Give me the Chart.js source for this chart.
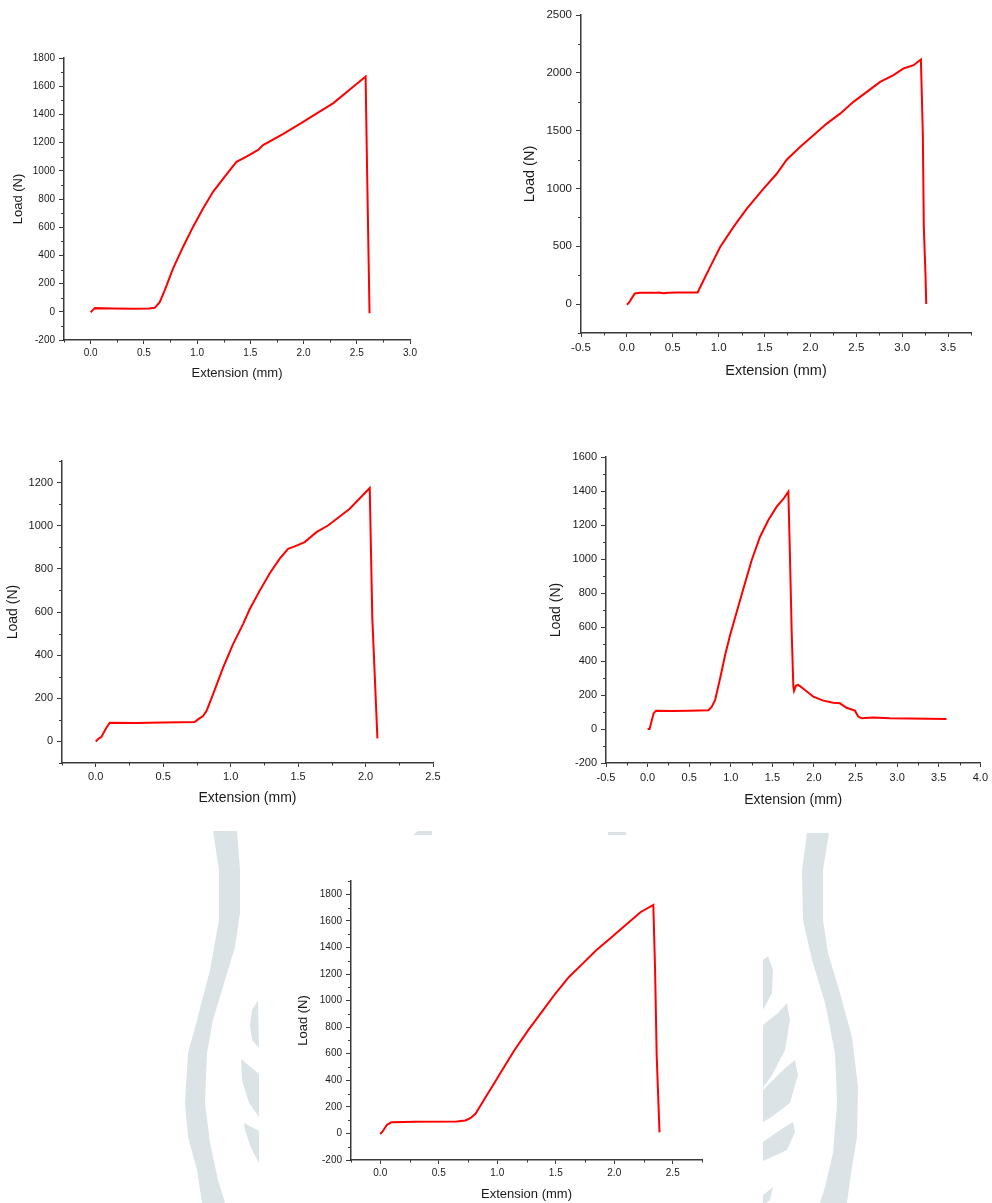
<!DOCTYPE html>
<html>
<head>
<meta charset="utf-8">
<script src="https://cdn.jsdelivr.net/npm/chart.js@4"></script>
<style>
  body { margin: 0; background: #fff; }
  #page { position: relative; width: 992px; height: 1203px; overflow: hidden; }
  #page canvas { position: absolute; }
  #mark { position: absolute; left: 0; top: 0; }
  #box5 { position: absolute; left: 259px; top: 836px; width: 504px; height: 367px; background: #fff; }
</style>
</head>
<body>
<div id="page">
  <!-- faint watermark behind the last chart -->
  <svg id="mark" width="992" height="1203" fill="#dce3e6">
    <polygon points="213,831 219,870 219,920 210,970 197,1020 188,1053 185,1103 188,1137 197,1170 202,1203 225,1203 218,1180 210,1143 205,1103 207,1053 213,1020 225,980 235,947 240,913 240,870 237,831"/>
    <polygon points="258,1000 252,1010 250,1025 252,1040 259,1048"/>
    <polygon points="241,1059 259,1074 259,1117 249,1103 242,1080"/>
    <polygon points="244,1123 259,1131 259,1163 251,1148 245,1130"/>
    <polygon points="807,833 802,870 803,920 812,960 825,1003 835,1053 837,1103 833,1153 825,1187 820,1203 847,1203 850,1180 857,1137 858,1087 852,1037 840,993 828,953 823,920 823,870 829,833"/>
    <polygon points="763,960 768,956 773,970 772,993 763,1010"/>
    <polygon points="763,1025 778,1013 787,1003 790,1020 785,1050 772,1075 763,1088"/>
    <polygon points="763,1090 783,1070 795,1060 798,1075 790,1103 770,1118 763,1122"/>
    <polygon points="763,1142 780,1130 793,1122 795,1132 787,1150 765,1160 763,1161"/>
    <polygon points="763,1195 773,1187 770,1200 766,1203 763,1203"/>
    <polygon points="413,835 418,831 432,831 432,835"/>
    <polygon points="608,832 626,832 626,835 608,835"/>
  </svg>
  <div id="box5"></div>
  <canvas id="c1"></canvas>
  <canvas id="c2"></canvas>
  <canvas id="c3"></canvas>
  <canvas id="c4"></canvas>
  <canvas id="c5"></canvas>
</div>

<script>
// ---- data ----
var ext1  = [0, 0.02, 0.04, 0.2, 0.4, 0.55, 0.602, 0.649, 0.696, 0.774, 0.868, 0.962, 1.056, 1.15, 1.26, 1.37, 1.464, 1.573, 1.62, 1.81, 1.966, 2.28, 2.583, 2.597, 2.62];
var load1 = [-3, 12, 26, 23, 22, 24, 28, 68, 152, 306, 460, 602, 733, 851, 958, 1064, 1100, 1148, 1182, 1262, 1333, 1480, 1669, 1000, -10];

var ext2  = [0, 0.025, 0.06, 0.087, 0.142, 0.3, 0.35, 0.4, 0.45, 0.55, 0.771, 0.833, 0.905, 1.015, 1.16, 1.305, 1.487, 1.633, 1.742, 1.887, 2.033, 2.178, 2.324, 2.469, 2.615, 2.76, 2.905, 3.015, 3.124, 3.204, 3.225, 3.236, 3.255, 3.262];
var load2 = [-6, 14, 60, 92, 98, 97, 100, 94, 98, 100, 100, 202, 318, 491, 665, 824, 997, 1127, 1249, 1358, 1460, 1561, 1647, 1749, 1835, 1922, 1980, 2038, 2066, 2116, 1474, 665, 231, 0];

var ext3  = [0, 0.02, 0.042, 0.08, 0.104, 0.3, 0.5, 0.734, 0.758, 0.795, 0.821, 0.87, 0.944, 1.018, 1.092, 1.142, 1.216, 1.29, 1.364, 1.426, 1.475, 1.549, 1.636, 1.722, 1.883, 2.031, 2.05, 2.088];
var load3 = [0, 12, 21, 65, 87, 86, 88, 90, 102, 118, 141, 219, 342, 451, 544, 614, 699, 780, 847, 893, 904, 924, 970, 1001, 1079, 1175, 575, 14];

var ext4  = [0, 0.024, 0.072, 0.1, 0.3, 0.5, 0.732, 0.772, 0.812, 0.872, 0.932, 0.992, 1.072, 1.152, 1.252, 1.352, 1.452, 1.552, 1.632, 1.692, 1.712, 1.732, 1.752, 1.76, 1.784, 1.812, 1.892, 1.992, 2.112, 2.232, 2.312, 2.392, 2.492, 2.532, 2.572, 2.712, 2.912, 3.592];
var load4 = [0, 0, 92, 108, 106, 108, 110, 131, 171, 298, 435, 553, 690, 827, 994, 1131, 1229, 1308, 1353, 1396, 1004, 573, 249, 224, 255, 259, 229, 190, 167, 155, 151, 125, 108, 73, 63, 67, 63, 59];

var ext5  = [0, 0.02, 0.058, 0.096, 0.3, 0.654, 0.727, 0.77, 0.814, 0.843, 0.887, 0.974, 1.061, 1.148, 1.265, 1.381, 1.497, 1.613, 1.73, 1.846, 1.962, 2.078, 2.224, 2.334, 2.349, 2.363, 2.387];
var load5 = [-5, 15, 65, 85, 88, 90, 98, 115, 148, 190, 253, 378, 503, 628, 778, 915, 1053, 1178, 1278, 1378, 1465, 1553, 1665, 1720, 1228, 578, 8];

// tick labels
var xTicks1 = [0, 0.5, 1.0, 1.5, 2.0, 2.5, 3.0];
var yTicks1 = [-200, 0, 200, 400, 600, 800, 1000, 1200, 1400, 1600, 1800];
var xTicks2 = [-0.5, 0, 0.5, 1.0, 1.5, 2.0, 2.5, 3.0, 3.5];
var yTicks2 = [0, 500, 1000, 1500, 2000, 2500];
var xTicks3 = [0, 0.5, 1.0, 1.5, 2.0, 2.5];
var yTicks3 = [0, 200, 400, 600, 800, 1000, 1200];
var xTicks4 = [-0.5, 0, 0.5, 1.0, 1.5, 2.0, 2.5, 3.0, 3.5, 4.0];
var yTicks4 = [-200, 0, 200, 400, 600, 800, 1000, 1200, 1400, 1600];
var xTicks5 = [0, 0.5, 1.0, 1.5, 2.0, 2.5];
var yTicks5 = [-200, 0, 200, 400, 600, 800, 1000, 1200, 1400, 1600, 1800];

var FONT = "'Liberation Sans', Arial, sans-serif";
var INK = '#1a1a1a';
var AXIS = '#3a3a3a';

// minor ticks between the labelled ones, drawn through the chart's scales
function minorsOf(lo, hi, step, majors) {
  var out = [];
  for (var v = lo; v <= hi + 1e-9; v += step) {
    var r = Math.round(v * 1000) / 1000;
    if (majors.indexOf(r) < 0) out.push(r);
  }
  return out;
}

var minorTicks = {
  id: 'minorTicks',
  afterDraw: function(chart, args, opts) {
    var ctx = chart.ctx, sx = chart.scales.x, sy = chart.scales.y;
    ctx.save();
    ctx.strokeStyle = AXIS;
    ctx.lineWidth = 1;
    opts.x.forEach(function(v) {
      var p = Math.round(sx.getPixelForValue(v)) + 0.5;
      ctx.beginPath(); ctx.moveTo(p, sx.top); ctx.lineTo(p, sx.top + 2.5); ctx.stroke();
    });
    opts.y.forEach(function(v) {
      var p = Math.round(sy.getPixelForValue(v)) + 0.5;
      ctx.beginPath(); ctx.moveTo(sy.right, p); ctx.lineTo(sy.right - 3, p); ctx.stroke();
    });
    ctx.restore();
  }
};

function makeChart(c) {
  var el = document.getElementById(c.id);
  var b = c.box, a = c.area;
  el.width = b[2]; el.height = b[3];
  el.style.left = b[0] + 'px'; el.style.top = b[1] + 'px';
  var yw = a[0] - b[0];
  var xh = b[1] + b[3] - a[3];
  var lh = c.title * 1.2;
  var tickFont = { family: FONT, size: c.tick };
  var titleFont = { family: FONT, size: c.title };
  var pts = c.xs.map(function(x, i) { return { x: x, y: c.ys[i] }; });

  new Chart(el, {
    type: 'scatter',
    data: {
      datasets: [{
        data: pts,
        showLine: true,
        borderColor: '#ff0000',
        borderWidth: 2,
        pointRadius: 0,
        tension: 0,
        fill: false
      }]
    },
    options: {
      responsive: false,
      animation: false,
      events: [],
      layout: { padding: { left: 0, top: a[1] - b[1], right: b[0] + b[2] - a[2], bottom: 0 } },
      plugins: {
        legend: { display: false },
        tooltip: { enabled: false },
        minorTicks: { x: minorsOf(c.xr[0], c.xr[1], c.xStep, c.xt), y: minorsOf(c.yr[0], c.yr[1], c.yStep, c.yt) }
      },
      scales: {
        x: {
          type: 'linear', bounds: 'data', min: c.xr[0], max: c.xr[1],
          afterBuildTicks: function(s) { s.ticks = c.xt.map(function(v) { return { value: v }; }); },
          afterFit: function(s) { s.height = xh; },
          ticks: { font: tickFont, color: INK, padding: c.xPad, maxRotation: 0, autoSkip: false,
                   callback: function(v) { return Number(v).toFixed(1); } },
          grid: { drawOnChartArea: false, drawTicks: true, tickLength: 4, tickColor: AXIS, tickWidth: 1 },
          border: { display: true, color: AXIS, width: 1.5 },
          title: { display: true, text: 'Extension (mm)', font: titleFont, color: INK,
                   padding: { top: 0, bottom: (b[1] + b[3] - c.xTitleY) - lh / 2 } }
        },
        y: {
          type: 'linear', bounds: 'data', min: c.yr[0], max: c.yr[1],
          afterBuildTicks: function(s) { s.ticks = c.yt.map(function(v) { return { value: v }; }); },
          afterFit: function(s) { s.width = yw; },
          ticks: { font: tickFont, color: INK, padding: 4, autoSkip: false,
                   callback: function(v) { return String(v); } },
          grid: { drawOnChartArea: false, drawTicks: true, tickLength: 5, tickColor: AXIS, tickWidth: 1 },
          border: { display: true, color: AXIS, width: 1.5 },
          title: { display: true, text: 'Load (N)', font: titleFont, color: INK,
                   padding: { top: (c.yTitleX - b[0]) - lh / 2, bottom: 0 } }
        }
      }
    },
    plugins: [minorTicks]
  });
}

makeChart({ id: 'c1', box: [0, 40, 430, 350], area: [64, 58, 410, 340],
  xs: ext1, ys: load1, xt: xTicks1, yt: yTicks1, xr: [-0.25, 3.0], yr: [-200, 1800],
  xStep: 0.25, yStep: 100, tick: 10, title: 13, xPad: 3, xTitleY: 373, yTitleX: 18 });

makeChart({ id: 'c2', box: [500, 0, 492, 390], area: [581, 15, 971, 333],
  xs: ext2, ys: load2, xt: xTicks2, yt: yTicks2, xr: [-0.5, 3.75], yr: [-250, 2500],
  xStep: 0.25, yStep: 250, tick: 11.5, title: 14.5, xPad: 4, xTitleY: 371, yTitleX: 530 });

makeChart({ id: 'c3', box: [0, 450, 450, 370], area: [62, 461, 433, 763],
  xs: ext3, ys: load3, xt: xTicks3, yt: yTicks3, xr: [-0.25, 2.5], yr: [-100, 1300],
  xStep: 0.25, yStep: 100, tick: 11, title: 14, xPad: 3, xTitleY: 798, yTitleX: 13.5 });

makeChart({ id: 'c4', box: [540, 445, 452, 370], area: [606, 457, 981, 763],
  xs: ext4, ys: load4, xt: xTicks4, yt: yTicks4, xr: [-0.5, 4.0], yr: [-200, 1600],
  xStep: 0.25, yStep: 100, tick: 11, title: 14, xPad: 4, xTitleY: 800, yTitleX: 556 });

makeChart({ id: 'c5', box: [290, 870, 425, 340], area: [351, 881, 702, 1160],
  xs: ext5, ys: load5, xt: xTicks5, yt: yTicks5, xr: [-0.25, 2.75], yr: [-200, 1900],
  xStep: 0.25, yStep: 100, tick: 10, title: 13, xPad: 3.5, xTitleY: 1194, yTitleX: 303.5 });
</script>
</body>
</html>
